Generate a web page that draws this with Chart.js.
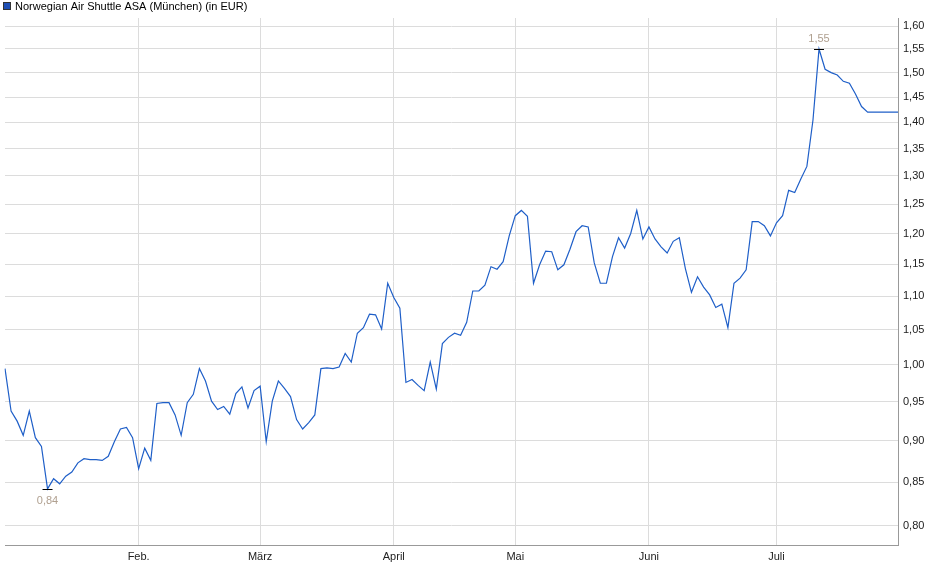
<!DOCTYPE html>
<html>
<head>
<meta charset="utf-8">
<script src="https://cdn.jsdelivr.net/npm/chart.js@4"></script>
<style>
  body { margin: 0; background: #fff; }
  #wrap { width: 940px; height: 579px; position: relative; }
</style>
</head>
<body>
<div id="wrap"><canvas id="chart"></canvas></div>
<script>
// Kursdaten (Handelstage Jan - Juli)
const prices = [
  0.995, 0.938, 0.925, 0.907, 0.938, 0.904, 0.893, 0.842, 0.854, 0.848,
  0.857, 0.862, 0.873, 0.878, 0.877, 0.877, 0.876, 0.881, 0.899, 0.915,
  0.917, 0.904, 0.866, 0.891, 0.876, 0.948, 0.949, 0.949, 0.933, 0.907,
  0.949, 0.960, 0.995, 0.978, 0.951, 0.940, 0.944, 0.934, 0.961, 0.970,
  0.942, 0.965, 0.971, 0.899, 0.951, 0.978, 0.968, 0.957, 0.927, 0.915,
  0.923, 0.933, 0.995, 0.996, 0.995, 0.997, 1.016, 1.004, 1.045, 1.053,
  1.073, 1.072, 1.051, 1.120, 1.098, 1.082, 0.976, 0.980, 0.972, 0.965,
  1.004, 0.967, 1.030, 1.039, 1.045, 1.042, 1.061, 1.108, 1.108, 1.117,
  1.146, 1.142, 1.154, 1.196, 1.230, 1.239, 1.229, 1.120, 1.149, 1.171,
  1.170, 1.141, 1.149, 1.174, 1.203, 1.213, 1.211, 1.152, 1.120, 1.120,
  1.162, 1.193, 1.176, 1.200, 1.239, 1.191, 1.211, 1.191, 1.178, 1.168,
  1.187, 1.193, 1.143, 1.106, 1.130, 1.114, 1.102, 1.083, 1.088, 1.053,
  1.120, 1.128, 1.141, 1.220, 1.220, 1.213, 1.196, 1.218, 1.230, 1.274,
  1.270, 1.294, 1.317, 1.404, 1.550, 1.507, 1.500, 1.495, 1.482, 1.478,
  1.456, 1.431, 1.420, 1.420, 1.420, 1.420, 1.420, 1.420
];
// Monatsbeginn (Index im Datenarray)
const monthNames = ['Feb.', 'März', 'April', 'Mai', 'Juni', 'Juli'];
const monthStarts = [22, 42, 64, 84, 106, 127];
const yTicks = [0.80, 0.85, 0.90, 0.95, 1.00, 1.05, 1.10, 1.15, 1.20, 1.25, 1.30, 1.35, 1.40, 1.45, 1.50, 1.55, 1.60];
const title = 'Norwegian Air Shuttle ASA (München) (in EUR)';

const labels = prices.map((p, i) => {
  const m = monthStarts.indexOf(i);
  return m >= 0 ? monthNames[m] : '';
});

const FONT = 'Liberation Sans, Arial, sans-serif';
const fmt = v => v.toFixed(2).replace('.', ',');

// Titel + Min/Max Markierungen
const extras = {
  id: 'extras',
  afterDraw(chart) {
    const ctx = chart.ctx;
    const x = chart.scales.x, y = chart.scales.y;
    ctx.save();
    ctx.fillStyle = '#1f4fb4';
    ctx.fillRect(3, 2, 8, 8);
    ctx.strokeStyle = '#333';
    ctx.lineWidth = 1;
    ctx.strokeRect(3.5, 2.5, 7, 7);
    ctx.fillStyle = '#000';
    ctx.font = '11px ' + FONT;
    ctx.textBaseline = 'middle';
    ctx.fillText(title, 15, 6.5);

    const min = Math.min(...prices), max = Math.max(...prices);
    const iMin = prices.indexOf(min), iMax = prices.indexOf(max);
    ctx.textAlign = 'center';
    ctx.fillStyle = '#b0a090';
    ctx.strokeStyle = '#000';
    [[iMin, min, 12], [iMax, max, -10]].forEach(([i, v, off]) => {
      const px = x.getPixelForValue(i), py = y.getPixelForValue(v);
      ctx.beginPath();
      ctx.moveTo(px - 5, Math.round(py) + 0.5);
      ctx.lineTo(px + 5, Math.round(py) + 0.5);
      ctx.stroke();
      ctx.fillText(fmt(v), px, py + off);
    });
    ctx.restore();
  }
};

new Chart(document.getElementById('chart'), {
  type: 'line',
  data: {
    labels: labels,
    datasets: [{
      data: prices,
      borderColor: '#1f5fc8',
      borderWidth: 1.2,
      pointRadius: 0,
      tension: 0,
      fill: false
    }]
  },
  options: {
    responsive: true,
    maintainAspectRatio: false,
    animation: false,
    layout: { padding: { left: 5, top: 18, right: 0, bottom: 0 } },
    plugins: { legend: { display: false }, tooltip: { enabled: false } },
    scales: {
      x: {
        type: 'category',
        offset: false,
        grid: {
          color: ctx => (ctx.tick && ctx.tick.label) ? '#dcdcdc' : 'rgba(0,0,0,0)',
          drawTicks: false
        },
        border: { display: true, color: '#999' },
        ticks: {
          autoSkip: false, maxRotation: 0, padding: 5,
          color: '#222', font: { family: FONT, size: 11 }
        },
        afterFit: s => { s.height = 34; }
      },
      y: {
        type: 'logarithmic',
        position: 'right',
        min: 0.779,
        max: 1.618,
        afterBuildTicks: s => { s.ticks = yTicks.map(v => ({ value: v })); },
        grid: { color: '#dcdcdc', drawTicks: false },
        border: { display: true, color: '#999' },
        ticks: {
          padding: 5,
          color: '#222', font: { family: FONT, size: 11 },
          callback: v => fmt(v)
        },
        afterFit: s => { s.width = 42; }
      }
    }
  },
  plugins: [extras]
});
</script>
</body>
</html>
